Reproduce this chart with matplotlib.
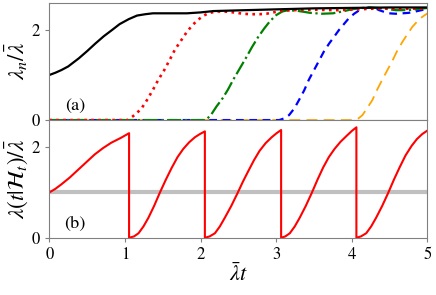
import matplotlib
matplotlib.use("Agg")
import matplotlib.pyplot as plt

plt.rcParams['font.family'] = ['STIXGeneral', 'DejaVu Serif']
plt.rcParams['mathtext.fontset'] = 'stix'

# ---- panel (a): lambda_n / lambda_bar ----
t_n1 = [0, 0.08, 0.16, 0.25, 0.39, 0.5, 0.61, 0.72, 0.83, 0.93, 1.05, 1.16, 1.27, 1.37, 1.6, 1.82, 2.0, 2.17, 2.6, 3.05, 3.5, 4.0, 4.5, 5.0]
v_n1 = [1.0, 1.05, 1.11, 1.19, 1.37, 1.53, 1.70, 1.86, 2.0, 2.13, 2.24, 2.32, 2.35, 2.37, 2.37, 2.37, 2.39, 2.42, 2.44, 2.46, 2.48, 2.49, 2.50, 2.50]

t_n2 = [0, 1.04, 1.11, 1.16, 1.22, 1.29, 1.37, 1.44, 1.52, 1.59, 1.66, 1.74, 1.82, 1.90, 1.97, 2.04, 2.12, 2.21, 2.30, 2.39, 2.48, 2.56, 2.67, 2.78, 2.87, 2.96, 3.06, 3.2, 3.5, 3.8, 4.1, 4.4, 4.7, 5.0]
v_n2 = [0, 0, 0.09, 0.16, 0.26, 0.44, 0.67, 0.89, 1.11, 1.33, 1.56, 1.76, 1.96, 2.12, 2.23, 2.32, 2.38, 2.41, 2.41, 2.40, 2.38, 2.36, 2.35, 2.35, 2.36, 2.39, 2.42, 2.44, 2.45, 2.44, 2.46, 2.48, 2.47, 2.48]

t_n3 = [0, 2.07, 2.14, 2.21, 2.29, 2.36, 2.44, 2.52, 2.60, 2.68, 2.76, 2.84, 2.92, 3.00, 3.08, 3.16, 3.3, 3.45, 3.6, 3.75, 3.9, 4.0, 4.15, 4.27, 4.4, 4.58, 4.75, 5.0]
v_n3 = [0, 0, 0.12, 0.30, 0.48, 0.67, 0.92, 1.15, 1.38, 1.62, 1.84, 2.03, 2.20, 2.33, 2.41, 2.44, 2.42, 2.38, 2.36, 2.37, 2.42, 2.46, 2.49, 2.50, 2.48, 2.44, 2.44, 2.49]

t_n4 = [0, 3.04, 3.11, 3.17, 3.24, 3.30, 3.37, 3.43, 3.50, 3.57, 3.63, 3.70, 3.77, 3.83, 3.90, 3.96, 4.03, 4.10, 4.17, 4.23, 4.30, 4.36, 4.43, 4.49, 4.58, 4.67, 4.75, 4.84, 4.92, 5.0]
v_n4 = [0, 0, 0.04, 0.11, 0.26, 0.44, 0.66, 0.89, 1.11, 1.33, 1.52, 1.70, 1.86, 2.0, 2.14, 2.26, 2.36, 2.44, 2.48, 2.50, 2.49, 2.44, 2.40, 2.37, 2.36, 2.37, 2.38, 2.41, 2.44, 2.47]

t_n5 = [0, 4.03, 4.09, 4.14, 4.20, 4.27, 4.33, 4.40, 4.47, 4.54, 4.60, 4.67, 4.74, 4.80, 4.87, 4.93, 5.0]
v_n5 = [0, 0, 0.04, 0.11, 0.26, 0.44, 0.66, 0.89, 1.11, 1.33, 1.54, 1.74, 1.92, 2.07, 2.20, 2.29, 2.37]

# ---- panel (b): conditional intensity lambda(t|H_t) / lambda_bar ----
t_int = [0, 0.08, 0.16, 0.27, 0.38, 0.49, 0.60, 0.71, 0.82, 0.95, 1.055,
         1.055, 1.12, 1.18, 1.245, 1.31, 1.385, 1.46, 1.54, 1.62, 1.695, 1.77, 1.85, 1.925, 1.99, 2.057,
         2.057, 2.12, 2.19, 2.255, 2.32, 2.405, 2.49, 2.56, 2.63, 2.705, 2.78, 2.86, 2.94, 3.005, 3.065,
         3.065, 3.12, 3.18, 3.245, 3.31, 3.39, 3.47, 3.545, 3.62, 3.695, 3.77, 3.85, 3.93, 4.0, 4.06,
         4.06, 4.12, 4.19, 4.255, 4.32, 4.40, 4.48, 4.555, 4.63, 4.71, 4.79, 4.86, 4.93, 5.0]
v_int = [1.0, 1.08, 1.18, 1.33, 1.50, 1.67, 1.84, 1.98, 2.10, 2.21, 2.31,
         0, 0.03, 0.10, 0.25, 0.44, 0.70, 0.99, 1.28, 1.55, 1.78, 1.96, 2.11, 2.22, 2.29, 2.35,
         0, 0.03, 0.10, 0.25, 0.44, 0.70, 0.99, 1.24, 1.47, 1.71, 1.92, 2.09, 2.22, 2.31, 2.38,
         0, 0.03, 0.10, 0.25, 0.44, 0.70, 0.99, 1.28, 1.55, 1.78, 1.96, 2.12, 2.25, 2.36, 2.44,
         0, 0.03, 0.10, 0.25, 0.44, 0.70, 0.99, 1.28, 1.55, 1.82, 2.03, 2.18, 2.29, 2.37]
mean_level = 1.0

x_ticks = [0, 1, 2, 3, 4, 5]
y_ticks = [0, 2]

fig = plt.figure(figsize=(4.36, 2.95), dpi=100)
ax1 = fig.add_axes([0.113, 0.593, 0.8675, 0.397])
ax2 = fig.add_axes([0.113, 0.194, 0.8675, 0.399])

ax1.plot(t_n5, v_n5, color='orange', lw=1.3, dashes=(6, 3.5))
ax1.plot(t_n4, v_n4, color='blue', lw=1.6, dashes=(3.5, 2.5))
ax1.plot(t_n3, v_n3, color='green', lw=1.6, ls='-.')
ax1.plot(t_n2, v_n2, color='red', lw=1.9, ls=':')
ax1.plot(t_n1, v_n1, color='black', lw=1.6)

ax2.axhline(mean_level, color='#c0c0c0', lw=3, zorder=1)
ax2.plot(t_int, v_int, color='red', lw=1.5, zorder=2)

for ax in (ax1, ax2):
    ax.set_xlim(0, 5)
    ax.set_ylim(0, 2.6)
    ax.set_yticks(y_ticks)
    for s in ax.spines.values():
        s.set_color('#808080')
    ax.tick_params(colors='#808080', labelcolor='black', labelsize=12, length=3, width=0.8)

ax1.set_xticks([])
ax2.set_xticks(x_ticks)

ax1.set_ylabel(r'$\lambda_n/\bar{\lambda}$', fontsize=16.5)
ax2.set_ylabel(r'$\lambda(t|\mathcal{H}_t)/\bar{\lambda}$', fontsize=16.5)
ax1.yaxis.set_label_coords(-0.052, 0.5)
ax2.yaxis.set_label_coords(-0.052, 0.5)
ax2.set_xlabel(r'$\bar{\lambda}t$', fontsize=16, labelpad=0)

ax1.text(0.068, 0.12, '(a)', transform=ax1.transAxes, fontsize=13, ha='center', va='center')
ax2.text(0.068, 0.12, '(b)', transform=ax2.transAxes, fontsize=13, ha='center', va='center')

fig.savefig('out.png', dpi=100)
